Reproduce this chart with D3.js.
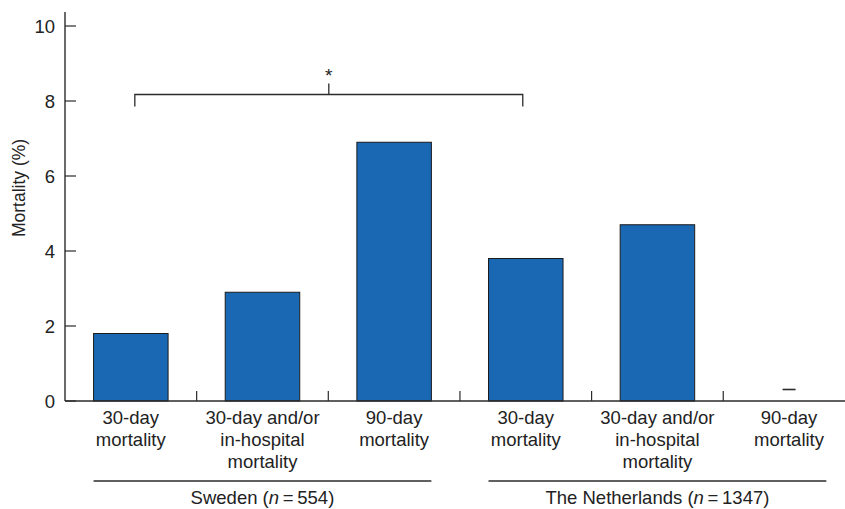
<!DOCTYPE html>
<html>
<head>
<meta charset="utf-8">
<script src="https://cdn.jsdelivr.net/npm/d3@7"></script>
<style>
  body { margin: 0; background: #fff; }
  svg text { font-family: "Liberation Sans", Arial, sans-serif; fill: #222; }
</style>
</head>
<body>
<svg id="chart" width="845" height="509"></svg>
<script>
// categories (two countries, three measures each)
var categories = ["se30", "seHosp", "se90", "nl30", "nlHosp", "nl90"];
var catLabels = [
  ["30-day", "mortality"],
  ["30-day and/or", "in-hospital", "mortality"],
  ["90-day", "mortality"],
  ["30-day", "mortality"],
  ["30-day and/or", "in-hospital", "mortality"],
  ["90-day", "mortality"]
];
var values = [1.8, 2.9, 6.9, 3.8, 4.7, null]; // last one not available
var yTicks = [0, 2, 4, 6, 8, 10];
var groups = [
  { name: "Sweden", n: "554", from: "se30", to: "se90" },
  { name: "The Netherlands", n: "1347", from: "nl30", to: "nl90" }
];
var bracket = { from: "se30", to: "nl30", label: "*", level: 8.2 };

var svg = d3.select("#chart");
var plotLeft = 65, plotBottom = 401, plotTop = 26;
var fs = 18.5;

var x = d3.scaleBand()
  .domain(categories)
  .range([plotLeft, plotLeft + 6 * 131.65])
  .paddingInner(0.434)
  .paddingOuter(0.217);

var y = d3.scaleLinear().domain([0, 10]).range([plotBottom, plotTop]);

var ink = "#2b2b2b";

// bars
svg.selectAll(".bar")
  .data(categories.filter(function (c, i) { return values[i] != null; }))
  .enter().append("rect")
  .attr("class", "bar")
  .attr("x", function (d) { return x(d); })
  .attr("width", x.bandwidth())
  .attr("y", function (d) { return y(values[categories.indexOf(d)]); })
  .attr("height", function (d) { return plotBottom - y(values[categories.indexOf(d)]); })
  .attr("fill", "#1a67b3")
  .attr("stroke", "#1b1b1b")
  .attr("stroke-width", 1);

// missing value dash
categories.forEach(function (c, i) {
  if (values[i] == null) {
    var cx = x(c) + x.bandwidth() / 2;
    svg.append("line")
      .attr("x1", cx - 6.5).attr("x2", cx + 6.5)
      .attr("y1", 389.5).attr("y2", 389.5)
      .attr("stroke", ink).attr("stroke-width", 1.6);
  }
});

// y axis
svg.append("line")
  .attr("x1", plotLeft).attr("x2", plotLeft)
  .attr("y1", 12).attr("y2", plotBottom)
  .attr("stroke", ink).attr("stroke-width", 1.4);

svg.selectAll(".ytick")
  .data(yTicks)
  .enter().append("line")
  .attr("x1", plotLeft).attr("x2", plotLeft + 11)
  .attr("y1", function (d) { return y(d); })
  .attr("y2", function (d) { return y(d); })
  .attr("stroke", ink).attr("stroke-width", 1.2);

svg.selectAll(".ylab")
  .data(yTicks)
  .enter().append("text")
  .attr("x", 55)
  .attr("y", function (d) { return y(d); })
  .attr("dy", "0.36em")
  .attr("text-anchor", "end")
  .attr("font-size", fs)
  .text(function (d) { return d; });

svg.append("text")
  .attr("transform", "translate(25,188) rotate(-90)")
  .attr("text-anchor", "middle")
  .attr("font-size", 17.5)
  .text("Mortality (%)");

// x axis
svg.append("line")
  .attr("x1", plotLeft).attr("x2", 845)
  .attr("y1", plotBottom).attr("y2", plotBottom)
  .attr("stroke", ink).attr("stroke-width", 1.4);

// separators between categories
svg.selectAll(".xtick")
  .data(categories.slice(1))
  .enter().append("line")
  .attr("x1", function (d) { return x(d) - x.step() * x.paddingInner() / 2; })
  .attr("x2", function (d) { return x(d) - x.step() * x.paddingInner() / 2; })
  .attr("y1", plotBottom).attr("y2", plotBottom - 10)
  .attr("stroke", ink).attr("stroke-width", 1.2);

// category labels
categories.forEach(function (c, i) {
  var t = svg.append("text")
    .attr("x", x(c) + x.bandwidth() / 2)
    .attr("y", 424)
    .attr("text-anchor", "middle")
    .attr("font-size", fs);
  catLabels[i].forEach(function (line, j) {
    t.append("tspan")
      .attr("x", x(c) + x.bandwidth() / 2)
      .attr("dy", j === 0 ? 0 : 22)
      .text(line);
  });
});

// group lines and labels
groups.forEach(function (g) {
  var x1 = x(g.from), x2 = x(g.to) + x.bandwidth();
  svg.append("line")
    .attr("x1", x1).attr("x2", x2)
    .attr("y1", 481).attr("y2", 481)
    .attr("stroke", ink).attr("stroke-width", 1.3);
  var t = svg.append("text")
    .attr("x", (x1 + x2) / 2)
    .attr("y", 504)
    .attr("text-anchor", "middle")
    .attr("font-size", fs);
  t.append("tspan").text(g.name + " (");
  t.append("tspan").attr("font-style", "italic").text("n");
  t.append("tspan").text("\u2009=\u2009" + g.n + ")");
});

// significance bracket
var bx1 = x(bracket.from) + x.bandwidth() / 2 + 4;
var bx2 = x(bracket.to) + x.bandwidth() / 2 - 3;
var by = y(bracket.level) + 1;
var bmid = (bx1 + bx2) / 2;
svg.append("path")
  .attr("d", "M" + bx1 + "," + (by + 12) + "V" + by + "H" + bx2 + "V" + (by + 12))
  .attr("fill", "none").attr("stroke", ink).attr("stroke-width", 1.3);
svg.append("line")
  .attr("x1", bmid).attr("x2", bmid)
  .attr("y1", by).attr("y2", by - 11)
  .attr("stroke", ink).attr("stroke-width", 1.3);
svg.append("text")
  .attr("x", bmid)
  .attr("y", 82)
  .attr("text-anchor", "middle")
  .attr("font-size", 19)
  .attr("fill", "#444")
  .text(bracket.label);
</script>
</body>
</html>
